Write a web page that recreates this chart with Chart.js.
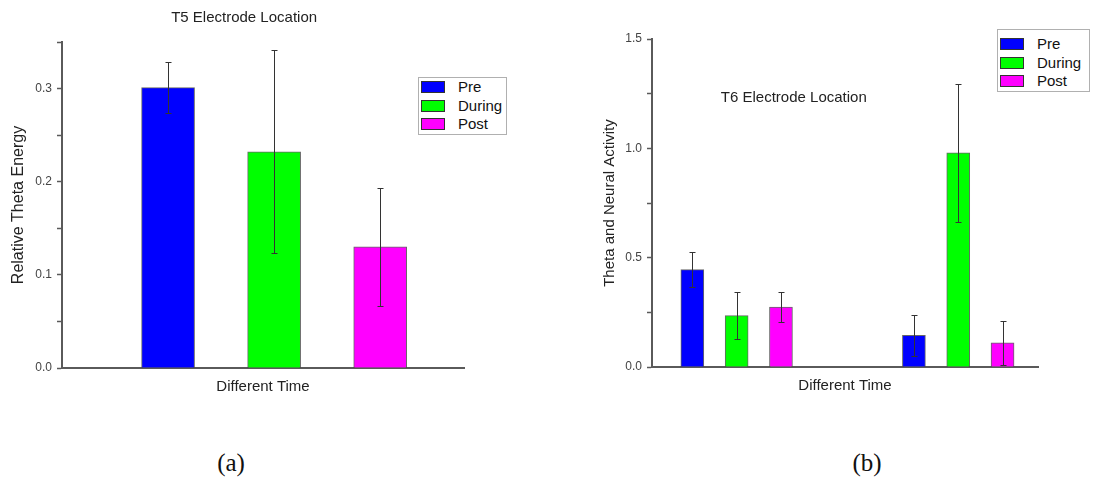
<!DOCTYPE html>
<html>
<head>
<meta charset="utf-8">
<script src="https://cdn.jsdelivr.net/npm/chart.js@4.4.0/dist/chart.umd.min.js"></script>
<style>
  body { margin: 0; background: #fff; width: 1093px; height: 478px; position: relative; overflow: hidden; font-family: 'Liberation Sans', Arial, sans-serif; }
  canvas { position: absolute; top: 0; }
  #chartT5 { left: 0; }
  #chartT6 { left: 560px; }
  .legend { position: absolute; border: 1px solid #b0b0b0; background: #fff; font-size: 15px; color: #111; padding: 0 4px 0 2px; }
  .legend div { height: 18.5px; line-height: 18.5px; white-space: nowrap; }
  .legend .sw { display: inline-block; width: 22px; height: 10px; border: 1px solid #333; vertical-align: -1px; margin-right: 13px; }
  #legendT5 { left: 418px; top: 77px; }
  #legendT6 { left: 997px; top: 29px; padding-top: 5px; padding-right: 8px; }
  .caption { position: absolute; top: 448px; line-height: 30px; transform: translateX(-50%); font-family: 'Liberation Serif', 'Times New Roman', serif; font-size: 25px; color: #111; }
</style>
</head>
<body>
<canvas id="chartT5" width="488" height="410"></canvas>
<canvas id="chartT6" width="533" height="410"></canvas>
<div class="legend" id="legendT5"></div>
<div class="legend" id="legendT6"></div>
<div class="caption" style="left:231px">(a)</div>
<div class="caption" style="left:867px">(b)</div>
<script>
var series = ['Pre', 'During', 'Post'];
var seriesColors = ['#0000ff', '#00ff00', '#ff00ff'];

// T5 electrode: one bar per series
var t5Values = [0.301, 0.232, 0.130];
var t5Errors = [0.027, 0.109, 0.063];
var t5TickLabels = ['0.0', '0.1', '0.2', '0.3'];

// T6 electrode: two time groups, one bar per series in each
var t6PreValues = [0.445, 0.145];
var t6DuringValues = [0.235, 0.979];
var t6PostValues = [0.274, 0.110];
var t6PreErrors = [0.080, 0.093];
var t6DuringErrors = [0.107, 0.314];
var t6PostErrors = [0.067, 0.102];
var t6TickLabels = ['0.0', '0.5', '1.0', '1.5'];

Chart.defaults.font.family = "'Liberation Sans', Arial, sans-serif";

var errorBars = {
  id: 'errorBars',
  afterDatasetsDraw: function (chart) {
    var ctx = chart.ctx, y = chart.scales.y;
    ctx.save();
    ctx.strokeStyle = '#333';
    ctx.lineWidth = 1;
    chart.data.datasets.forEach(function (ds, i) {
      chart.getDatasetMeta(i).data.forEach(function (bar, j) {
        var v = ds.data[j].y, e = ds.errors[j];
        var top = Math.round(y.getPixelForValue(v + e)) + 0.5;
        var bot = Math.round(y.getPixelForValue(v - e)) + 0.5;
        var x = Math.round(bar.x) + 0.5;
        ctx.beginPath();
        ctx.moveTo(x, top); ctx.lineTo(x, bot);
        ctx.moveTo(x - 3, top); ctx.lineTo(x + 3, top);
        ctx.moveTo(x - 3, bot); ctx.lineTo(x + 3, bot);
        ctx.stroke();
      });
    });
    ctx.restore();
  }
};

// chart heading placed at a data position (T6 has it inside the plot)
var innerTitle = {
  id: 'innerTitle',
  afterDraw: function (chart, args, opts) {
    if (!opts.text) return;
    var ctx = chart.ctx;
    ctx.save();
    ctx.font = "15px 'Liberation Sans', Arial, sans-serif";
    ctx.fillStyle = '#222';
    ctx.textAlign = 'center';
    ctx.textBaseline = 'middle';
    ctx.fillText(opts.text, chart.scales.x.getPixelForValue(opts.x), chart.scales.y.getPixelForValue(opts.y));
    ctx.restore();
  }
};

function xAxis(min, max, height, titlePad) {
  return {
    type: 'linear', min: min, max: max, offset: false,
    grid: { display: false },
    ticks: { display: false },
    border: { display: true, color: '#5a5a5a', width: 2 },
    title: { display: true, text: 'Different Time', color: '#222', font: { size: 15 }, padding: { top: 0, bottom: titlePad } },
    afterFit: function (s) { s.height = height; }
  };
}

function yAxis(max, step, labels, text, titleSize, width, titlePad) {
  return {
    min: 0, max: max,
    grid: { display: true, drawOnChartArea: false, drawTicks: true, tickLength: 5, tickColor: '#5a5a5a', tickWidth: 1.5 },
    border: { display: true, color: '#5a5a5a', width: 2 },
    ticks: {
      stepSize: step, color: '#444', padding: 5, font: { size: 12 },
      callback: function (v) {
        var s = v.toFixed(1);
        return (labels.indexOf(s) >= 0 && Math.abs(v - parseFloat(s)) < 1e-9) ? s : '';
      }
    },
    title: { display: true, text: text, color: '#222', font: { size: titleSize }, padding: { top: titlePad, bottom: 0 } },
    afterFit: function (s) { s.width = width; }
  };
}

function barStyle(i, thickness) {
  return {
    label: series[i],
    backgroundColor: seriesColors[i],
    borderColor: 'rgba(0,0,0,0.6)',
    borderWidth: 1,
    grouped: false,
    barThickness: thickness
  };
}

var t5Datasets = series.map(function (name, i) {
  var ds = barStyle(i, 53);
  ds.data = [{ x: i + 1, y: t5Values[i] }];
  ds.errors = [t5Errors[i]];
  return ds;
});

var t6Values = [t6PreValues, t6DuringValues, t6PostValues];
var t6Errors = [t6PreErrors, t6DuringErrors, t6PostErrors];
var t6Datasets = series.map(function (name, i) {
  var ds = barStyle(i, 23);
  ds.data = t6Values[i].map(function (v, g) { return { x: g * 5 + i + 1, y: v }; });
  ds.errors = t6Errors[i];
  return ds;
});

var chartT5 = new Chart(document.getElementById('chartT5'), {
  type: 'bar',
  data: { datasets: t5Datasets },
  options: {
    responsive: false,
    animation: false,
    layout: { padding: { top: 42, right: 24 } },
    plugins: {
      legend: { display: false },
      tooltip: { enabled: false },
      innerTitle: { text: 'T5 Electrode Location', x: 1.717, y: 0.376 }
    },
    scales: {
      x: xAxis(0, 3.79, 42, 14),
      y: yAxis(0.35, 0.05, t5TickLabels, 'Relative Theta Energy', 16, 62, 9)
    }
  },
  plugins: [errorBars, innerTitle]
});

var chartT6 = new Chart(document.getElementById('chartT6'), {
  type: 'bar',
  data: { datasets: t6Datasets },
  options: {
    responsive: false,
    animation: false,
    layout: { padding: { top: 39, right: 55 } },
    plugins: {
      legend: { display: false },
      tooltip: { enabled: false },
      innerTitle: { text: 'T6 Electrode Location', x: 3.29, y: 1.23 }
    },
    scales: {
      x: xAxis(0.09, 8.8, 43, 15),
      y: yAxis(1.5, 0.25, t6TickLabels, 'Theta and Neural Activity', 15, 92, 41)
    }
  },
  plugins: [errorBars, innerTitle]
});

function buildLegend(chart, id) {
  var box = document.getElementById(id);
  chart.data.datasets.forEach(function (ds) {
    var row = document.createElement('div');
    var sw = document.createElement('span');
    sw.className = 'sw';
    sw.style.background = ds.backgroundColor;
    row.appendChild(sw);
    row.appendChild(document.createTextNode(ds.label));
    box.appendChild(row);
  });
}
buildLegend(chartT5, 'legendT5');
buildLegend(chartT6, 'legendT6');
</script>
</body>
</html>
